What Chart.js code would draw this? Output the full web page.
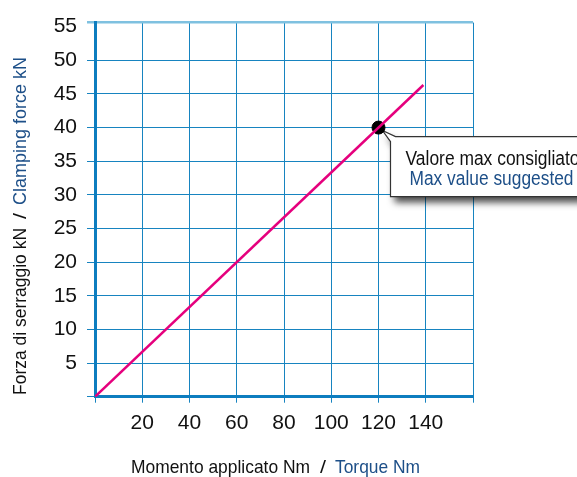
<!DOCTYPE html>
<html>
<head>
<meta charset="utf-8">
<script src="https://cdn.jsdelivr.net/npm/chart.js@4"></script>
<style>
  html, body { margin: 0; padding: 0; background: #fff; }
  #wrap { position: relative; width: 577px; height: 477px; }
</style>
</head>
<body>
<div id="wrap"><canvas id="chart"></canvas></div>
<script>
// data
const torqueNm = [0, 139];
const clampKN = [0, 46.33];
const maxTorque = [120];
const maxClamp = [40];
const xTickLabels = [20, 40, 60, 80, 100, 120, 140];
const yTickLabels = [5, 10, 15, 20, 25, 30, 35, 40, 45, 50, 55];

const FONT = "'Liberation Sans', Arial, sans-serif";
const GRID = '#1784c0';
const AXIS = '#0d7dbf';
const BLUE_TEXT = '#1d4f88';

// draw text squeezed to a given width (the original uses a narrow face)
function narrowText(ctx, text, x, y, width, color) {
  const w = ctx.measureText(text).width;
  ctx.save();
  ctx.translate(x, y);
  ctx.scale(width / w, 1);
  ctx.fillStyle = color;
  ctx.fillText(text, 0, 0);
  ctx.restore();
}

// axis titles + callout
const decor = {
  id: 'decor',
  beforeDatasetsDraw(chart) {
    const ctx = chart.ctx;
    const px = chart.scales.x.getPixelForValue(maxTorque[0]);
    const py = chart.scales.y.getPixelForValue(maxClamp[0]);
    const left = px + 12, top = py + 9, bottom = py + 69, right = 600;
    ctx.save();
    ctx.beginPath();
    ctx.moveTo(left, top + 5);
    ctx.lineTo(px + 4, py + 3);
    ctx.lineTo(left + 5, top);
    ctx.lineTo(right, top);
    ctx.lineTo(right, bottom);
    ctx.lineTo(left, bottom);
    ctx.closePath();
    ctx.shadowColor = 'rgba(0,0,0,0.7)';
    ctx.shadowBlur = 7;
    ctx.shadowOffsetX = 4;
    ctx.shadowOffsetY = 6;
    ctx.fillStyle = '#fff';
    ctx.fill();
    ctx.shadowColor = 'transparent';
    ctx.lineWidth = 1.2;
    ctx.strokeStyle = '#333';
    ctx.stroke();
    ctx.font = '19.5px ' + FONT;
    ctx.textBaseline = 'alphabetic';
    ctx.textAlign = 'left';
    narrowText(ctx, 'Valore max consigliato', left + 15, top + 28, 174, '#111');
    narrowText(ctx, 'Max value suggested', left + 19, top + 48, 164, BLUE_TEXT);
    ctx.restore();
  },
  afterDraw(chart) {
    const ctx = chart.ctx;
    ctx.save();
    ctx.font = '18.5px ' + FONT;
    ctx.textBaseline = 'alphabetic';
    ctx.textAlign = 'left';
    // x title
    narrowText(ctx, 'Momento applicato Nm', 131, 473, 179, '#111');
    narrowText(ctx, '/', 320, 473, 6, '#111');
    narrowText(ctx, 'Torque Nm', 335, 473, 85, BLUE_TEXT);
    // y title
    ctx.translate(26, 395);
    ctx.rotate(-Math.PI / 2);
    ctx.font = '18px ' + FONT;
    narrowText(ctx, 'Forza di serraggio kN', 0, 0, 167, '#111');
    narrowText(ctx, '/', 176, 0, 6, '#111');
    narrowText(ctx, 'Clamping force kN', 190, 0, 148, BLUE_TEXT);
    ctx.restore();
  }
};

new Chart(document.getElementById('chart'), {
  type: 'line',
  data: {
    datasets: [
      {
        data: torqueNm.map((t, i) => ({ x: t, y: clampKN[i] })),
        borderColor: '#e5007d',
        borderWidth: 2.5,
        pointRadius: 0,
        fill: false
      },
      {
        data: maxTorque.map((t, i) => ({ x: t, y: maxClamp[i] })),
        showLine: false,
        pointRadius: 6.5,
        pointBackgroundColor: '#000',
        pointBorderColor: '#000'
      }
    ]
  },
  options: {
    responsive: true,
    maintainAspectRatio: false,
    animation: false,
    layout: { padding: { top: 17.7, right: 104, left: 0, bottom: 0 } },
    plugins: { legend: { display: false }, tooltip: { enabled: false } },
    scales: {
      x: {
        type: 'linear',
        min: 0,
        max: 160,
        afterFit(scale) { scale.height = 80.3; },
        ticks: {
          stepSize: 20,
          padding: 8,
          color: '#111',
          font: { family: FONT, size: 21 },
          callback: v => xTickLabels.includes(v) ? v : ''
        },
        grid: { color: GRID, lineWidth: 1, tickLength: 6 },
        border: { color: AXIS, width: 3 }
      },
      y: {
        type: 'linear',
        min: 0,
        max: 55.6,
        afterFit(scale) { scale.width = 95; },
        afterBuildTicks(scale) {
          scale.ticks = [0, ...yTickLabels, 55.6].map(v => ({ value: v }));
        },
        ticks: {
          padding: 10,
          color: '#111',
          font: { family: FONT, size: 21 },
          callback: v => yTickLabels.includes(v) ? v : ''
        },
        grid: {
          color: c => c.tick && c.tick.value === 55 ? 'rgba(0,0,0,0)' : (c.tick && c.tick.value > 55 ? '#7fc1e0' : GRID),
          lineWidth: c => c.tick && c.tick.value > 55 ? 2.5 : 1,
          tickLength: 8
        },
        border: { color: AXIS, width: 3 }
      }
    }
  },
  plugins: [decor]
});
</script>
</body>
</html>
